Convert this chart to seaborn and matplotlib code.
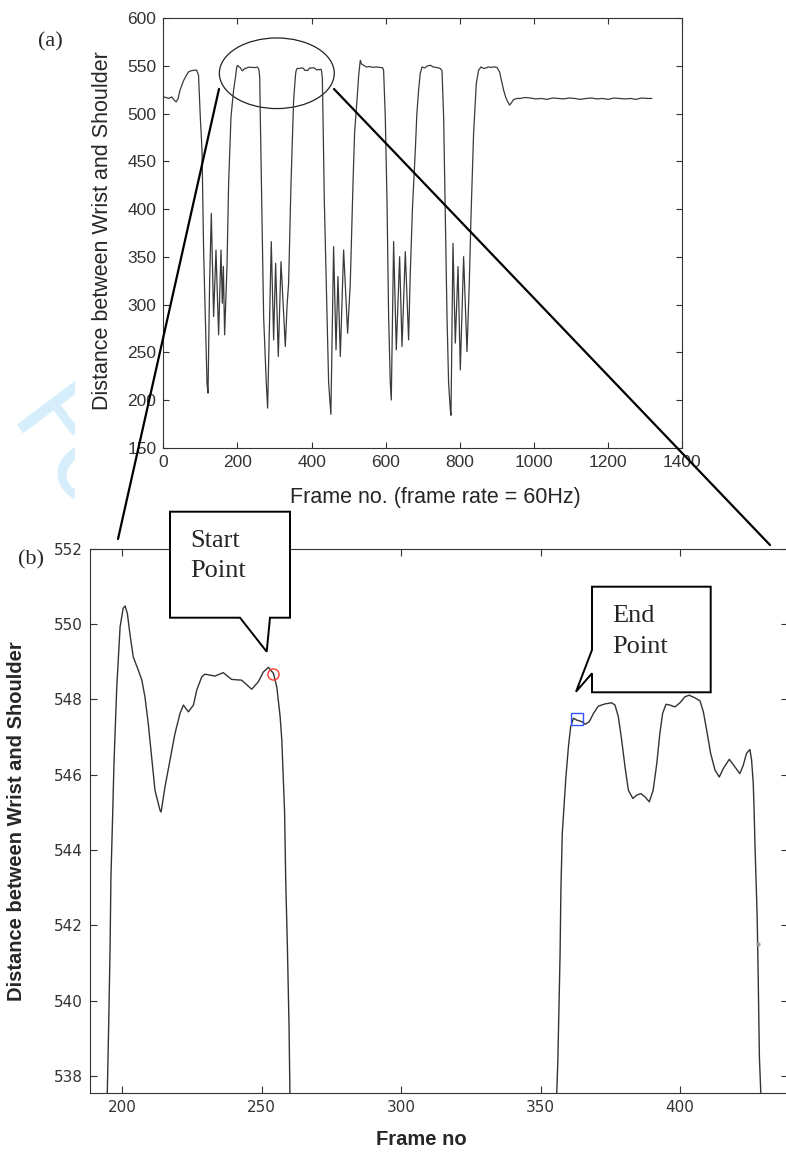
import numpy as np
import pandas as pd
import seaborn as sns
import matplotlib.pyplot as plt
from matplotlib.patches import Ellipse, Polygon
from matplotlib.lines import Line2D
from matplotlib.transforms import Bbox

# ---- data ----------------------------------------------------------------
# start of the recording up to the first plateau
lead_frames = [0, 8, 14, 23, 30, 35, 40, 45, 50, 55, 62, 68, 75, 82, 90, 95,
               99.8, 104.4, 108.7, 113.3, 117.9, 120.6, 124.9, 129.5, 135.7,
               142.1, 149.2, 155.6, 159.2, 162.0, 165.4, 171.8, 176.2, 182.6, 189.7]
lead_dist = [517.6, 517, 516, 517.5, 514, 512.4, 516, 524.7, 530, 535, 540,
             543.8, 545, 545.6, 545.6, 540.3, 496.7, 461.9, 357.2, 287.4, 217.7,
             207.2, 322, 395.6, 287.4, 357.2, 268.3, 357.2, 301.4, 340, 268.3,
             339.8, 427, 496.7, 525]

# first plateau
p1_frames = [194.6, 195.1, 195.6, 195.9, 196.5, 197.0, 198.0, 199.2, 200.3,
             201.0, 201.8, 202.7, 203.9, 205.7, 207.0, 208.1, 209.3, 210.5,
             211.7, 213.5, 213.9, 215.3, 217.1, 218.9, 220.7, 221.9, 223.7,
             225.5, 226.7, 228.5, 229.6, 233.2, 236.2, 239.2, 242.8, 246.4,
             248.8, 250.6, 252.4, 254.2, 255.4, 256.6, 257.2, 257.7, 258.2,
             258.6, 259.2, 259.8, 260.1]
p1_dist = [537.55, 539.35, 541.4, 543.25, 544.85, 546.3, 548.33, 549.93, 550.42,
           550.48, 550.28, 549.75, 549.13, 548.78, 548.51, 548.07, 547.36,
           546.48, 545.59, 545.06, 545.01, 545.68, 546.39, 547.10, 547.63,
           547.85, 547.67, 547.85, 548.25, 548.60, 548.67, 548.62, 548.71,
           548.53, 548.51, 548.27, 548.47, 548.73, 548.85, 548.69, 548.33,
           547.54, 546.92, 545.94, 545.0, 543.2, 541.43, 539.3, 537.55]

# swing between the two plateaus
swing_frames = [261.7, 266.2, 270.6, 277.8, 281.4, 291.3, 297.6, 303.0, 310.2,
                317.5, 329.1, 334.0, 338.0, 344.5, 351.5]
swing_dist = [496.7, 392.1, 287.4, 217.7, 191.5, 365.9, 263, 343.3, 245.6,
              345, 256, 300, 322.4, 427, 514.2]

# second plateau (panel b)
p2_frames = [355.8, 356.2, 356.6, 357.0, 357.3, 357.8, 358.4, 359.1, 360.0,
             360.8, 361.8, 363.0, 364.8, 366.0, 367.5, 369.0, 370.7, 373.1,
             375.5, 376.7, 377.9, 379.1, 380.3, 381.5, 383.1, 384.5, 386.0,
             387.5, 389.0, 390.4, 391.7, 392.8, 393.8, 395.0, 396.4, 398.2,
             400.0, 401.8, 403.3, 405.4, 407.2, 408.4, 409.6, 411.0, 412.6,
             414.1, 415.6, 417.7, 419.7, 421.5, 422.7, 423.9, 425.1, 425.7,
             426.3, 426.6, 426.9, 427.3, 427.7, 428.1, 428.5, 429.0]
p2_dist = [537.55, 538.37, 539.84, 541.21, 542.93, 544.45, 545.15, 545.94,
           546.74, 547.27, 547.50, 547.45, 547.41, 547.34, 547.41, 547.63,
           547.82, 547.88, 547.91, 547.85, 547.54, 546.92, 546.21, 545.59,
           545.37, 545.46, 545.50, 545.41, 545.28, 545.59, 546.30, 547.10,
           547.63, 547.87, 547.85, 547.80, 547.91, 548.07, 548.11, 548.04,
           547.96, 547.67, 547.18, 546.57, 546.12, 545.94, 546.17, 546.41,
           546.21, 546.03, 546.25, 546.57, 546.67, 546.39, 545.77, 545.06,
           544.18, 543.20, 542.23, 540.50, 538.51, 537.55]

# rest of the recording
tail_frames = [430.8, 434.3, 441.6, 446.0, 452.0, 459.4, 465.9, 471.2, 477.5,
               486.4, 497.2, 504.4, 511.7, 516.0, 522.5, 527.0, 531.4, 535.0,
               540.4, 548.0, 556.0, 565.0, 575.0, 585.0, 592.0, 594.3, 598.8,
               603.4, 607.8, 612.3, 615.0, 621.3, 628.5, 637.5, 643.9, 652.8,
               661.7, 666.0, 672.0, 679.8, 684.0, 688.7, 693.0, 697.8, 705.0,
               712.0, 720.2, 728.0, 735.0, 742.0, 747.2, 751.8, 756.2, 760.7,
               765.3, 769.6, 774.2, 776.0, 781.4, 787.7, 795.0, 801.2, 810.1,
               819.2, 825.4, 830.0, 837.0, 844.3, 850.5, 857.0, 864.0, 870.0,
               877.5, 885.0, 893.0, 900.2, 907.2, 912.0, 918.0, 923.0, 927.1,
               934.1, 940.0, 945.0, 954.0, 963.0, 975, 990, 1005, 1020, 1035,
               1050, 1065, 1080, 1095, 1110, 1125, 1140, 1155, 1170, 1185, 1200,
               1215, 1230, 1245, 1260, 1275, 1290, 1305, 1318]
tail_dist = [496.7, 409.5, 287.4, 217.7, 185, 360.7, 252.6, 329.3, 245.6,
             357.2, 270, 322.4, 427, 480, 514.2, 540, 556, 552, 550.8, 549,
             549.5, 548.6, 549, 548.5, 548, 545, 496.7, 409.5, 287.4, 217.7,
             200, 366, 252.6, 350.2, 256, 355.5, 263, 330, 400, 461.9, 500,
             524.7, 542, 549, 548, 550, 550.8, 549, 548.6, 548, 547.4, 545,
             496.7, 392, 287.4, 217.7, 189.8, 184, 364.2, 259.6, 339.8, 231.6,
             350.2, 250.8, 322.4, 392, 479.3, 531.7, 545.6, 549, 547.4, 548,
             549, 548.5, 549.2, 548.4, 543.8, 535, 524.7, 518, 514.2, 509, 512,
             514.9, 516, 516, 517, 516.5, 515.5, 516, 515, 516.5, 516, 515.5,
             516.5, 516, 515, 516, 516.5, 515.5, 516, 515, 516.5, 516, 515.5,
             516, 515, 516.5, 516, 516]

start_pt = (254.0, 548.67)
end_pt = (362.9, 547.48)
stray_pt = (427.9, 541.52)

df = pd.DataFrame({
    'frame': lead_frames + p1_frames + swing_frames + p2_frames + tail_frames,
    'dist': lead_dist + p1_dist + swing_dist + p2_dist + tail_dist,
})

# ---- figure --------------------------------------------------------------
W, H = 786, 1157
sns.set_style('ticks')
plt.rcParams.update({
    'font.family': ['Liberation Sans', 'DejaVu Sans'],
    'xtick.direction': 'in', 'ytick.direction': 'in',
    'xtick.top': True, 'ytick.right': True,
    'axes.edgecolor': '#333333', 'axes.linewidth': 0.8,
    'xtick.color': '#333333', 'ytick.color': '#333333',
})

fig = plt.figure(figsize=(W / 100, H / 100), dpi=100)


def fx(x):
    return x / W


def fy(y):
    return 1 - y / H


# panel (a)
ax_a = fig.add_axes([fx(163.3), fy(447.7), 519 / W, 429.4 / H])
sns.lineplot(data=df, x='frame', y='dist', ax=ax_a, estimator=None, sort=False,
             color='#3a3a3a', linewidth=0.9)
ax_a.set_xlim(0, 1400)
ax_a.set_ylim(150, 600)
ax_a.set_xticks(np.arange(0, 1401, 200))
ax_a.set_yticks(np.arange(150, 601, 50))
ax_a.tick_params(length=4.5, width=0.8, labelsize=12.5, pad=5,
                 labelcolor='#333333')
ax_a.set_xlabel('Frame no. (frame rate = 60Hz)', fontsize=15.5)
ax_a.set_ylabel('Distance between Wrist and Shoulder', fontsize=15.5)
ax_a.xaxis.label.set(va='center', ha='center')
ax_a.yaxis.label.set(va='center', ha='center', rotation_mode='anchor')
ax_a.xaxis.set_label_coords(0.5235, -0.117)
ax_a.yaxis.set_label_coords(-0.1171, 0.5047)
ax_a.add_patch(Ellipse((306.2, 542.4), 310, 74, fill=False, ec='#222222',
                       lw=0.9, clip_on=False))

# panel (b)
ax_b = fig.add_axes([fx(90), fy(1092.7), 698 / W, 544 / H])
sns.lineplot(data=df, x='frame', y='dist', ax=ax_b, estimator=None, sort=False,
             color='#333333', linewidth=1.0)
ax_b.set_xlim(188.4, 438.76)
ax_b.set_ylim(537.56, 552)
ax_b.set_xticks(np.arange(200, 401, 50))
ax_b.set_yticks(np.arange(538, 553, 2))
ax_b.tick_params(length=5, width=0.8, labelsize=11, pad=5, labelcolor='#333333')
for lab in ax_b.get_xticklabels() + ax_b.get_yticklabels():
    lab.set_family('DejaVu Sans')
ax_b.set_xlabel('Frame no', fontsize=14.5, fontweight='bold')
ax_b.set_ylabel('Distance between Wrist and Shoulder', fontsize=14.5,
                fontweight='bold')
ax_b.xaxis.label.set(va='center', ha='center')
ax_b.yaxis.label.set(va='center', ha='center', rotation_mode='anchor')
ax_b.xaxis.set_label_coords(0.4742, -0.0869)
ax_b.yaxis.set_label_coords(-0.1053, 0.4985)
ax_b.plot(*start_pt, 'o', mfc='none', mec='#ff3b2f', ms=8, mew=1.0)
ax_b.plot(*end_pt, 's', mfc='none', mec='#3355ff', ms=8, mew=1.0)
ax_b.plot(*stray_pt, '.', color='#999999', ms=4)

# zoom connector lines
for (x1, y1), (x2, y2) in [((219, 89), (118, 539)), ((334, 89), (770, 545))]:
    fig.add_artist(Line2D([fx(x1), fx(x2)], [fy(y1), fy(y2)],
                          transform=fig.transFigure, color='black', lw=1.6,
                          zorder=5))

# callouts
start_box = [(170, 511.7), (290, 511.7), (290, 617.7), (270, 617.7),
             (266.7, 651.7), (240, 617.7), (170, 617.7)]
end_box = [(592, 586.7), (710.7, 586.7), (710.7, 692.3), (592, 692.3),
           (592, 673.3), (576, 691.7), (592, 650)]
for box in [start_box, end_box]:
    fig.add_artist(Polygon([(fx(x), fy(y)) for x, y in box], closed=True,
                           fc='white', ec='black', lw=1.4,
                           transform=fig.transFigure, zorder=6))
callout_lines = [('Start', 190, 547), ('Point', 190, 577),
                 ('End', 612, 622), ('Point', 612, 653)]
for txt, x, y in callout_lines:
    fig.text(fx(x), fy(y), txt, ha='left', va='baseline', fontsize=19,
             family='Liberation Serif', zorder=7)

fig.text(fx(50), fy(42), '(a)', ha='center', va='center', fontsize=16,
         family='Liberation Serif')
fig.text(fx(31.5), fy(560), '(b)', ha='center', va='center', fontsize=16,
         family='Liberation Serif')

# faint watermark, only its left edge shows
wm = fig.text(fx(5), fy(424), 'Fo', rotation=-53,
              rotation_mode='anchor', ha='left', va='baseline', fontsize=78,
              color='#d6eefb', family='DejaVu Sans', zorder=-1)
wm.set_clip_box(Bbox([[0, 0], [75, H]]))
wm.set_clip_on(True)

fig.savefig('out.png', dpi=100)
